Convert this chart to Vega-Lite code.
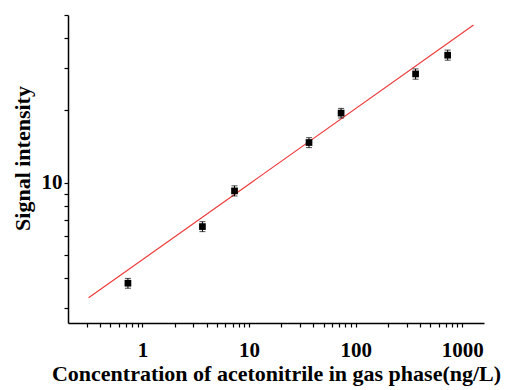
{
  "$schema": "https://vega.github.io/schema/vega-lite/v6.json",
  "width": 416,
  "height": 308,
  "autosize": {"type": "none"},
  "padding": {"left": 68, "top": 15, "right": 38, "bottom": 67},
  "background": "white",
  "config": {
    "view": {"stroke": null},
    "axis": {
      "grid": false,
      "domainColor": "black",
      "domainWidth": 1.5,
      "tickColor": "black",
      "tickWidth": 1.2,
      "labelFont": "Liberation Serif",
      "labelFontWeight": "bold",
      "labelFontSize": 21,
      "labelColor": "black",
      "titleFont": "Liberation Serif",
      "titleFontWeight": "bold",
      "titleFontSize": 22,
      "titleColor": "black",
      "labelOverlap": false
    }
  },
  "datasets": {
    "points": [
      {"conc": 0.73, "signal": 3.81, "lo": 3.63, "hi": 3.99},
      {"conc": 3.65, "signal": 6.56, "lo": 6.25, "hi": 6.88},
      {"conc": 7.3, "signal": 9.24, "lo": 8.8, "hi": 9.7},
      {"conc": 36.5, "signal": 14.7, "lo": 14.0, "hi": 15.4},
      {"conc": 73, "signal": 19.5, "lo": 18.6, "hi": 20.4},
      {"conc": 365, "signal": 28.4, "lo": 27.0, "hi": 29.8},
      {"conc": 730, "signal": 34.0, "lo": 32.4, "hi": 35.7}
    ],
    "fit": [
      {"conc": 0.312, "signal": 3.31},
      {"conc": 1276, "signal": 45.4}
    ]
  },
  "layer": [
    {
      "data": {"name": "fit"},
      "mark": {"type": "line", "color": "#ee3a3a", "strokeWidth": 1.2},
      "encoding": {
        "x": {
          "field": "conc", "type": "quantitative",
          "scale": {"type": "log", "domain": [0.2, 1600], "nice": false},
          "axis": {
            "title": "Concentration of acetonitrile in gas phase(ng/L)",
            "values": [0.3,0.4,0.5,0.6,0.7,0.8,0.9,1,2,3,4,5,6,7,8,9,10,20,30,40,50,60,70,80,90,100,200,300,400,500,600,700,800,900,1000],
            "labelExpr": "datum.value == 1 ? '1' : datum.value == 10 ? '10' : datum.value == 100 ? '100' : datum.value == 1000 ? '1000' : ''",
            "tickSize": 4,
            "labelPadding": 12,
            "titleY": 50,
            "titleBaseline": "middle"
          }
        },
        "y": {
          "field": "signal", "type": "quantitative",
          "scale": {"type": "log", "domain": [2.6, 50], "nice": false},
          "axis": {
            "title": "Signal intensity",
            "values": [3,4,5,6,7,8,9,10,20,30,40,50],
            "labelExpr": "datum.value == 10 ? '10' : ''",
            "tickSize": 4,
            "labelPadding": 2,
            "titleX": -46,
            "titleY": 143,
            "titleBaseline": "middle"
          }
        }
      }
    },
    {
      "data": {"name": "points"},
      "mark": {"type": "rule", "color": "black", "strokeWidth": 1},
      "encoding": {
        "x": {"field": "conc", "type": "quantitative"},
        "y": {"field": "lo", "type": "quantitative"},
        "y2": {"field": "hi"}
      }
    },
    {
      "data": {"name": "points"},
      "mark": {"type": "tick", "orient": "horizontal", "color": "black", "size": 6, "thickness": 1},
      "encoding": {
        "x": {"field": "conc", "type": "quantitative"},
        "y": {"field": "lo", "type": "quantitative"}
      }
    },
    {
      "data": {"name": "points"},
      "mark": {"type": "tick", "orient": "horizontal", "color": "black", "size": 6, "thickness": 1},
      "encoding": {
        "x": {"field": "conc", "type": "quantitative"},
        "y": {"field": "hi", "type": "quantitative"}
      }
    },
    {
      "data": {"name": "points"},
      "mark": {"type": "square", "color": "black", "opacity": 1, "size": 45},
      "encoding": {
        "x": {"field": "conc", "type": "quantitative"},
        "y": {"field": "signal", "type": "quantitative"}
      }
    }
  ]
}
